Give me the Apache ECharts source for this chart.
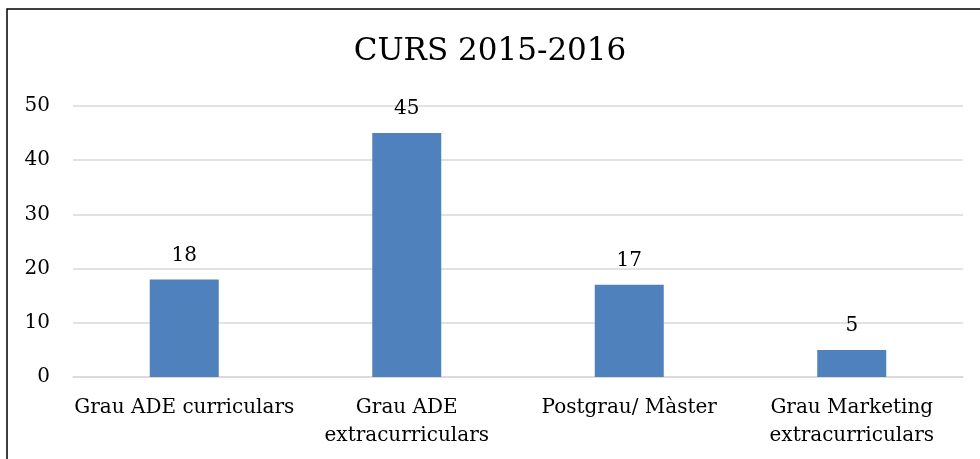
<!DOCTYPE html>
<html>
<head>
<meta charset="utf-8">
<script src="https://cdn.jsdelivr.net/npm/echarts@6/dist/echarts.min.js"></script>
<style>
html, body { margin: 0; padding: 0; background: #fff; }
#chart { width: 980px; height: 459px; }
</style>
</head>
<body>
<div id="chart"></div>
<script>
var categories = ['Grau ADE curriculars', 'Grau ADE\nextracurriculars', 'Postgrau/ Màster', 'Grau Marketing\nextracurriculars'];
var values = [18, 45, 17, 5];
var titleText = 'CURS 2015-2016';

var font = '"DejaVu Serif", "Liberation Serif", serif';
var chart = echarts.init(document.getElementById('chart'));
var option = {
	animation: false,
	backgroundColor: '#fff',
	textStyle: { fontFamily: font },
	title: {
		text: titleText,
		left: 'center',
		top: 31,
		textStyle: { fontFamily: font, fontSize: 31, fontWeight: 'normal', color: '#000' }
	},
	graphic: [{
		type: 'rect',
		shape: { x: 7, y: 9, width: 1000, height: 500 },
		style: { fill: 'none', stroke: '#000', lineWidth: 1.5 },
		silent: true
	}],
	grid: { left: 73, right: 17, top: 106, bottom: 82, containLabel: false },
	xAxis: {
		type: 'category',
		data: categories,
		axisTick: { show: false },
		axisLine: { lineStyle: { color: '#d9d9d9', width: 1.5 } },
		axisLabel: { color: '#000', fontSize: 20, fontFamily: font, margin: 17, lineHeight: 28, interval: 0 }
	},
	yAxis: {
		type: 'value',
		min: 0,
		max: 50,
		interval: 10,
		axisLine: { show: false },
		axisTick: { show: false },
		splitLine: { lineStyle: { color: '#d9d9d9', width: 1.5 } },
		axisLabel: { color: '#000', fontSize: 20, fontFamily: font, margin: 23 }
	},
	series: [{
		type: 'bar',
		data: values,
		barWidth: 69,
		itemStyle: { color: '#4f81bd' },
		label: { show: true, position: 'top', distance: 14, color: '#000', fontSize: 20, fontFamily: font }
	}]
};
chart.setOption(option);
window.addEventListener('resize', function() {
	chart.resize();
});
</script>
</body>
</html>
